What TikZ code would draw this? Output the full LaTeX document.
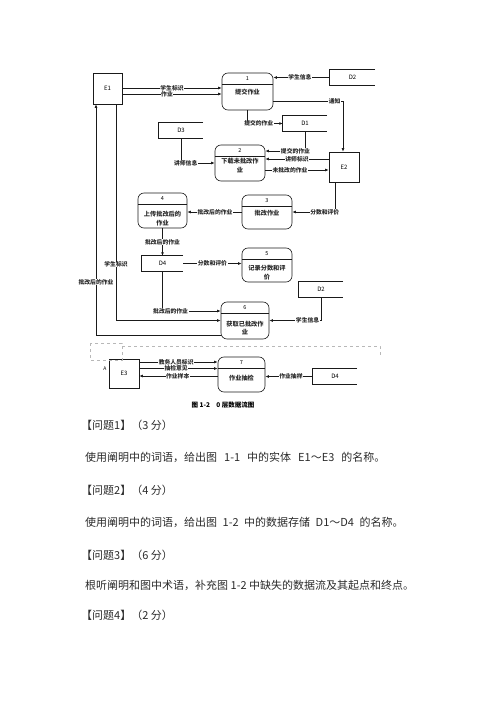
\documentclass[tikz,border=0pt]{standalone}
\usepackage{fontspec}
\setmainfont{Noto Sans CJK SC}
\usepackage{xcolor}
\definecolor{linecolor}{HTML}{1a1a1a}
\definecolor{textcolor}{HTML}{2a2a2a}
\definecolor{scancolor}{HTML}{b8b8b8}
\usepackage{tikz}
\usetikzlibrary{arrows.meta}
\tikzset{
    entity/.style={
        rectangle,
        draw=linecolor,
        line width=0.65pt,
        inner sep=0pt,
        font=\fontsize{6}{7}\selectfont,
    },
    proc/.style={
        rectangle,
        draw=linecolor,
        line width=0.65pt,
        rounded corners=6pt,
        inner sep=0pt,
        path picture={\draw[linecolor, line width=0.65pt]
            ([yshift=-11.5pt]path picture bounding box.north west) --
            ([yshift=-11.5pt]path picture bounding box.north east);},
    },
    procnum/.style={
        anchor=north,
        inner sep=0pt,
        yshift=-4pt,
        font=\fontsize{5.5}{6}\selectfont,
    },
    proctext/.style={
        align=center,
        inner sep=0pt,
        text=textcolor,
        font=\fontsize{6.2}{9}\selectfont\bfseries,
    },
    store/.style={
        rectangle,
        minimum width=44pt,
        minimum height=15pt,
        inner sep=0pt,
        font=\fontsize{6}{7}\selectfont,
        append after command={\pgfextra{\draw[linecolor, line width=0.65pt]
            (\tikzlastnode.north east) -- (\tikzlastnode.north west) --
            (\tikzlastnode.south west) -- (\tikzlastnode.south east);}},
    },
    flow/.style={
        -{Latex[length=3.5pt,width=2.8pt]},
        draw=linecolor,
        line width=0.6pt,
    },
    lbl/.style={
        fill=white,
        inner xsep=0.6pt,
        inner ysep=0pt,
        text=textcolor,
        font=\fontsize{5.8}{6}\selectfont\bfseries,
    },
    scan/.style={
        draw=scancolor,
        line width=0.5pt,
        dashed,
    },
    caption/.style={
        inner sep=0pt,
        font=\fontsize{6.5}{7}\selectfont\bfseries,
    },
    question/.style={
        anchor=west,
        inner sep=0pt,
        text=textcolor,
        font=\fontsize{11}{13}\selectfont,
    },
}

\begin{document}
\begin{tikzpicture}[x=1pt, y=-1pt]
    \useasboundingbox (0,0) rectangle (500,707);

    % externals and stores
    \node[entity, minimum width=29pt, minimum height=31pt] (E1) at (107.5,88.5) {E1};
    \node[entity, minimum width=30pt, minimum height=30pt] (E2) at (344,167) {E2};
    \node[entity, minimum width=30pt, minimum height=29pt] (E3) at (124,373.5) {E3};

    \node[store, minimum width=45pt] (D2a) at (352.5,77.5) {D2};
    \node[store] (D1) at (305,123.5) {D1};
    \node[store] (D3) at (181,130.5) {D3};
    \node[store, minimum width=41pt] (D4a) at (162.5,263.5) {D4};
    \node[store] (D2b) at (321,289.5) {D2};
    \node[store] (D4b) at (335,376.5) {D4};

    % processes
    \node[proc, minimum width=51pt, minimum height=37pt, label={[procnum]north:1}] (p1) at (247.5,91.5) {};
    \node[proc, minimum width=50pt, minimum height=36pt, label={[procnum]north:2}] (p2) at (240,163) {};
    \node[proc, minimum width=50pt, minimum height=34pt, label={[procnum]north:3}] (p3) at (267,212) {};
    \node[proc, minimum width=49pt, minimum height=35pt, label={[procnum]north:4}] (p4) at (162.5,210.5) {};
    \node[proc, minimum width=50pt, minimum height=34pt, label={[procnum]north:5}] (p5) at (267,265) {};
    \node[proc, minimum width=48pt, minimum height=37pt, label={[procnum]north:6}] (p6) at (245,320.5) {};
    \node[proc, minimum width=47pt, minimum height=35pt, label={[procnum]north:7}] (p7) at (241.5,374.5) {};

    \node[proctext] (t1) at (247.5,92) {提交作业};
    \node[proctext] (t2) at (240,166) {下载未批改作\\业};
    \node[proctext] (t3) at (267,213) {批改作业};
    \node[proctext] (t4) at (162.5,219) {上传批改后的\\作业};
    \node[proctext] (t5) at (267,273) {记录分数和评\\价};
    \node[proctext] (t6) at (245,328) {获取已批改作\\业};
    \node[proctext] (t7) at (241.5,378) {作业抽检};

    % data flows
    \draw[flow] (E1.east |- 0,88) -- node[lbl, pos=0.5]{学生标识} (p1.west |- 0,88);
    \draw[flow] (E1.east |- 0,94) -- node[lbl, pos=0.45]{作业} (p1.west |- 0,94);
    \draw[flow] (D2a.west) -- node[lbl, pos=0.53]{学生信息} (p1.east |- D2a.west);
    \draw[flow] (p1.east |- 0,101) -| node[lbl, pos=0.44]{通知} ([xshift=-1pt]E2.north);
    \draw[flow] (p1.south) |- node[lbl, pos=0.66]{提交的作业} (D1.west);

    \draw[flow] (D1.south) |- node[lbl, pos=0.62]{提交的作业} (p2.east |- 0,151);
    \draw[flow] (E2.west |- 0,159) -- node[lbl, pos=0.5]{讲师标识} (p2.east |- 0,159);
    \draw[flow] (p2.east |- 0,170) -- node[lbl, pos=0.39]{未批改的作业} (E2.west |- 0,170);
    \draw[flow] (D3.south) |- node[lbl, pos=0.57]{讲师信息} (p2.west |- 0,163);

    \draw[flow] ([xshift=-9pt]E2.south) |- node[lbl, pos=0.62]{分数和评价} (p3.east);
    \draw[flow] (p3.west) -- node[lbl, pos=0.49]{批改后的作业} (p4.east |- p3.west);
    \draw[flow] (p4.south) -- node[lbl, pos=0.5]{批改后的作业} (D4a.north);
    \draw[flow] (D4a.east) -- node[lbl, pos=0.5]{分数和评价} (p5.west |- D4a.east);

    \draw[flow] (D2b.south) |- node[lbl, pos=0.63]{学生信息} (p6.east);
    \draw[flow] (D4a.south) |- node[lbl, pos=0.57]{批改后的作业} (p6.west |- 0,311);
    \draw[flow] ([xshift=8.5pt]E1.south) |- node[lbl, pos=0.37]{学生标识} (p6.west);
    \draw[flow] (p6.west |- 0,335) -| node[lbl, pos=0.615]{批改后的作业} ([xshift=-11.5pt]E1.south);

    \draw[flow] (E3.east |- 0,362) -- node[lbl, pos=0.47]{教务人员标识} (p7.west |- 0,362);
    \draw[flow] (E3.east |- 0,368.5) -- node[lbl, pos=0.47]{抽检意见} (p7.west |- 0,368.5);
    \draw[flow] (p7.west |- 0,376) -- node[lbl, pos=0.51]{作业样本} (E3.east |- 0,376);
    \draw[flow] (D4b.west) -- node[lbl, pos=0.46]{作业抽样} (p7.east |- D4b.west);

    % faint marks of the scan
    \draw[scan] (90,343) rectangle (122,360);
    \draw[scan] (122,346) -- (380,346) -- (380,356);
    \node[inner sep=0pt, font=\fontsize{5}{6}\selectfont] (mA) at (105,369) {A};

    \node[caption] (cap) at (223,405) {图 1-2\quad 0 层数据流图};

    % questions
    \node[question] (q1) at (81,425) {【问题1】（3 分）};
    \node[question] (a1) at (85,457) {使用阐明中的词语，给出图\hspace{7pt}1-1\hspace{7pt}中的实体\hspace{7pt}E1～E3\hspace{7pt}的名称。};
    \node[question] (q2) at (81,490) {【问题2】（4 分）};
    \node[question] (a2) at (85,522) {使用阐明中的词语，给出图\hspace{5.5pt}1-2\hspace{5.5pt}中的数据存储\hspace{5.5pt}D1～D4\hspace{5.5pt}的名称。};
    \node[question] (q3) at (81,555) {【问题3】（6 分）};
    \node[question] (a3) at (85,585) {根听阐明和图中术语，补充图 1-2 中缺失的数据流及其起点和终点。};
    \node[question] (q4) at (81,615) {【问题4】（2 分）};
\end{tikzpicture}
\end{document}
